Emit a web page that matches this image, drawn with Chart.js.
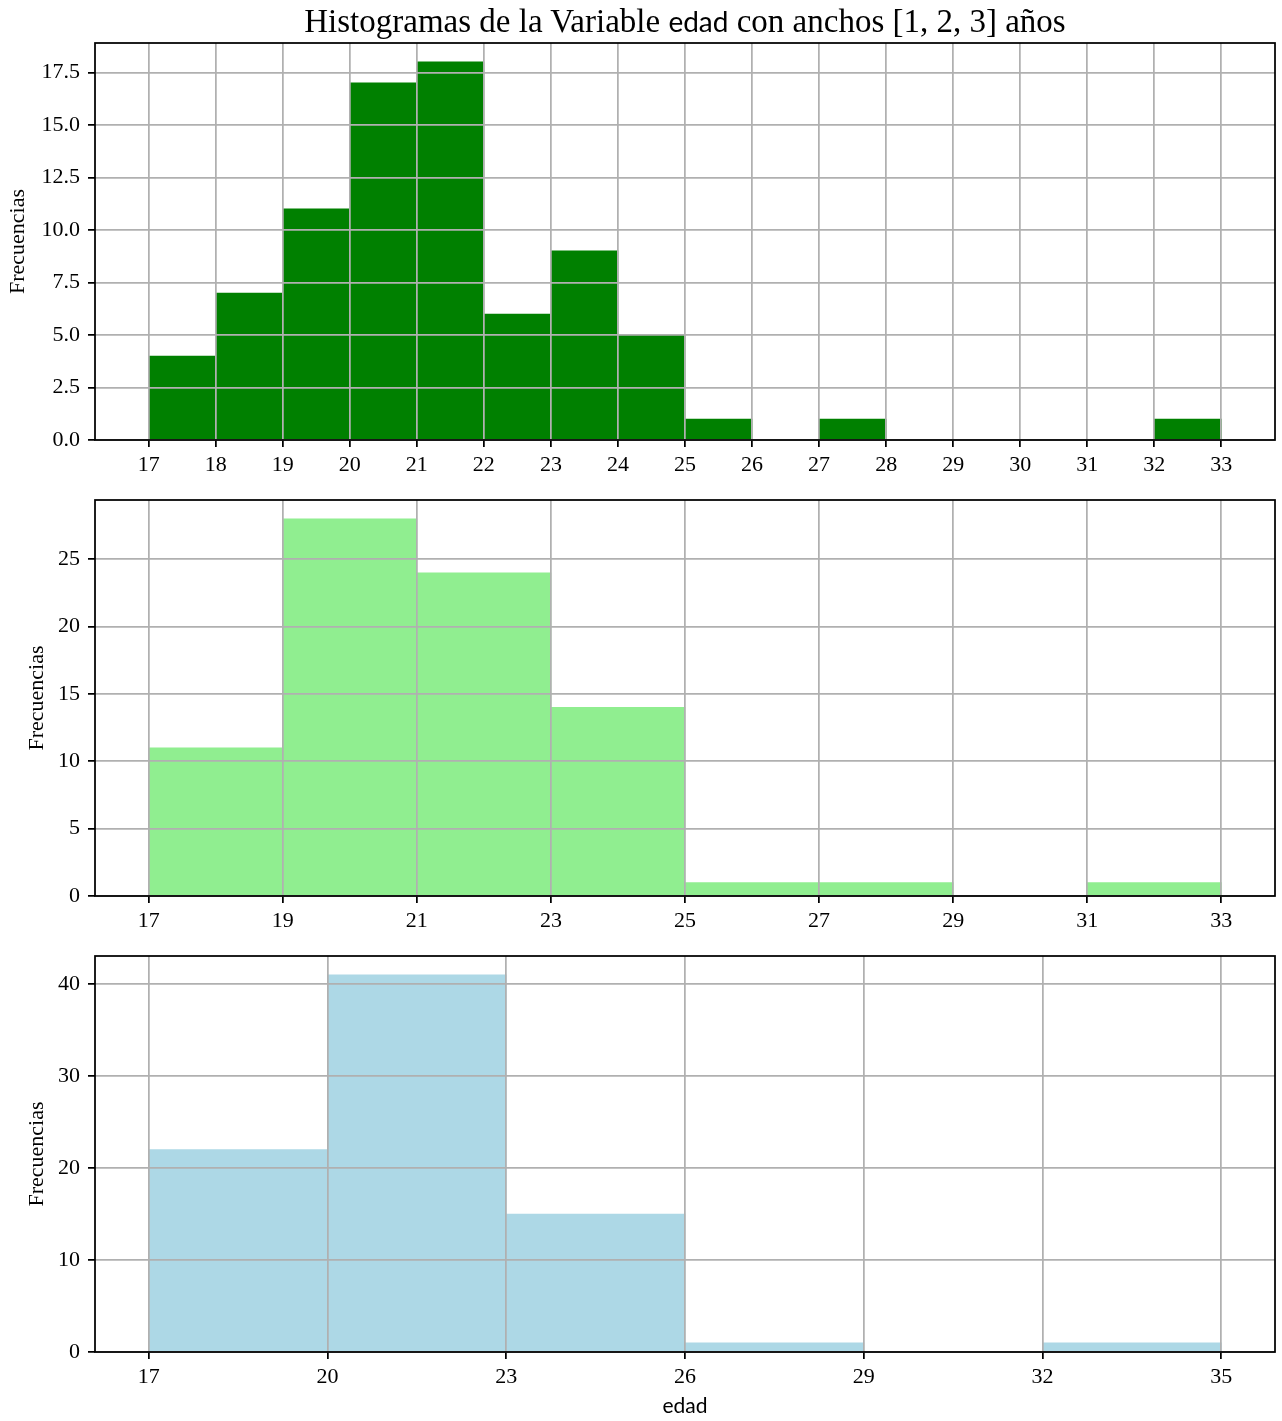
<!DOCTYPE html>
<html>
<head>
<meta charset="utf-8">
<script src="https://cdn.jsdelivr.net/npm/chart.js@4/dist/chart.umd.min.js"></script>
<style>
  html, body { margin: 0; padding: 0; background: #fff; }
  body { position: relative; width: 1282px; height: 1421px; overflow: hidden; }
  #title {
    position: absolute; left: 95px; width: 1180px; top: 2px;
    text-align: center; white-space: nowrap; color: #000;
    font-family: 'Liberation Serif', serif; font-size: 33px; line-height: 38px;
    z-index: 2;
  }
  #title .sf { font-family: 'Lato', 'DejaVu Sans', sans-serif; font-size: 28px; }
  canvas { position: absolute; left: 0; }
</style>
</head>
<body>
<div id="title">Histogramas de la Variable <span class="sf">edad</span> con anchos [1, 2, 3] años</div>
<canvas id="h1" width="1282" height="457" style="top:18px"></canvas>
<canvas id="h2" width="1282" height="456" style="top:475px"></canvas>
<canvas id="h3" width="1282" height="490" style="top:931px"></canvas>
<script>
// Age bins (left edges) and counts for each bin width
const binStarts1 = [17, 18, 19, 20, 21, 22, 23, 24, 25, 26, 27, 28, 29, 30, 31, 32];
const counts1    = [4, 7, 11, 17, 18, 6, 9, 5, 1, 0, 1, 0, 0, 0, 0, 1];
const binWidth1  = 1;

const binStarts2 = [17, 19, 21, 23, 25, 27, 29, 31];
const counts2    = [11, 28, 24, 14, 1, 1, 0, 1];
const binWidth2  = 2;

const binStarts3 = [17, 20, 23, 26, 29, 32];
const counts3    = [22, 41, 15, 1, 0, 1];
const binWidth3  = 3;

// Tick positions
const xTicks1 = [17, 18, 19, 20, 21, 22, 23, 24, 25, 26, 27, 28, 29, 30, 31, 32, 33];
const xTicks2 = [17, 19, 21, 23, 25, 27, 29, 31, 33];
const xTicks3 = [17, 20, 23, 26, 29, 32, 35];
const yTicks1 = [0, 2.5, 5, 7.5, 10, 12.5, 15, 17.5];
const yTicks2 = [0, 5, 10, 15, 20, 25];
const yTicks3 = [0, 10, 20, 30, 40];

const SERIF = "'Liberation Serif', serif";
const SANS = "'Lato', 'DejaVu Sans', sans-serif";
const GRID = '#b0b0b0';
const LW = 1.75;

// Black frame around the plotting area
const frame = {
  id: 'frame',
  afterDraw(chart) {
    const { ctx, chartArea: a } = chart;
    ctx.save();
    ctx.strokeStyle = '#000';
    ctx.lineWidth = LW;
    ctx.strokeRect(a.left, a.top, a.right - a.left, a.bottom - a.top);
    ctx.restore();
  }
};

function histogram(id, starts, width, counts, color, xTicks, yTicks, opt) {
  const lo = starts[0];
  const hi = starts[starts.length - 1] + width;
  const xPad = (hi - lo) * 0.05;
  const yMax = Math.max(...counts) * 1.05;

  new Chart(document.getElementById(id), {
    type: 'bar',
    data: {
      datasets: [{
        data: starts.map((s, i) => ({ x: s + width / 2, y: counts[i] })),
        backgroundColor: color,
        borderWidth: 0,
        barPercentage: 1,
        categoryPercentage: 1
      }]
    },
    options: {
      responsive: false,
      animation: false,
      devicePixelRatio: 1,
      layout: { padding: { top: 25, right: 7, left: 0, bottom: 0 } },
      plugins: { legend: { display: false }, tooltip: { enabled: false }, title: { display: false } },
      scales: {
        x: {
          type: 'linear',
          bounds: 'data',
          offset: false,
          min: lo - xPad,
          max: hi + xPad,
          afterBuildTicks: s => { s.ticks = xTicks.map(v => ({ value: v })); },
          afterFit: s => { s.height = opt.xHeight; },
          ticks: {
            autoSkip: false, maxRotation: 0, color: '#000', padding: 5,
            font: { family: SERIF, size: 22 },
            callback: v => String(v)
          },
          grid: { z: 1, offset: false, color: GRID, lineWidth: LW, tickColor: '#000', tickLength: 7, tickWidth: LW },
          border: { display: false },
          title: opt.xTitle ? {
            display: true, text: opt.xTitle, color: '#000',
            font: { family: SANS, size: 21 }, padding: { top: 0, bottom: 2 }
          } : { display: false }
        },
        y: {
          type: 'linear',
          bounds: 'data',
          min: 0,
          max: yMax,
          afterBuildTicks: s => { s.ticks = yTicks.map(v => ({ value: v })); },
          afterFit: s => { s.width = 95; },
          ticks: {
            autoSkip: false, color: '#000', padding: 8,
            font: { family: SERIF, size: 22 },
            callback: opt.yFormat
          },
          grid: { z: 1, offset: false, color: GRID, lineWidth: LW, tickColor: '#000', tickLength: 7, tickWidth: LW },
          border: { display: false },
          title: {
            display: true, text: 'Frecuencias', color: '#000',
            font: { family: SERIF, size: 22 }, padding: { top: opt.yTitlePad, bottom: 0 }
          }
        }
      }
    },
    plugins: [frame]
  });
}

histogram('h1', binStarts1, binWidth1, counts1, '#008000', xTicks1, yTicks1,
  { xHeight: 35, yTitlePad: 5, yFormat: v => v.toFixed(1) });
histogram('h2', binStarts2, binWidth2, counts2, '#90ee90', xTicks2, yTicks2,
  { xHeight: 35, yTitlePad: 24, yFormat: v => String(v) });
histogram('h3', binStarts3, binWidth3, counts3, '#add8e6', xTicks3, yTicks3,
  { xHeight: 69, yTitlePad: 24, yFormat: v => String(v), xTitle: 'edad' });
</script>
</body>
</html>
